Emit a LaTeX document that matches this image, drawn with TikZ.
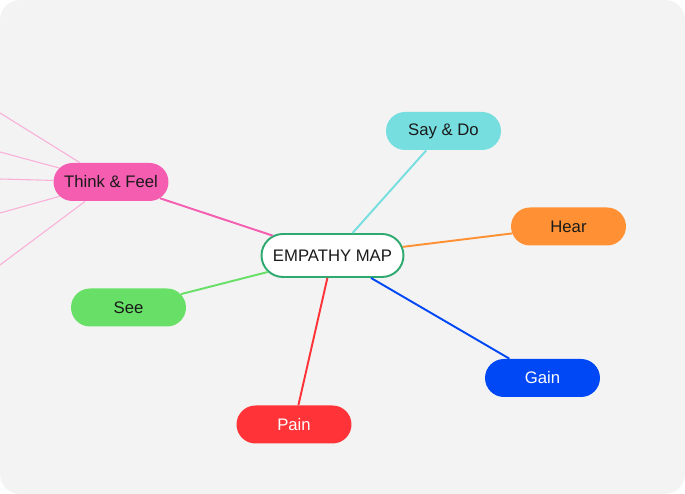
\documentclass[tikz,border=0pt]{standalone}
\usepackage{fontspec}
\setmainfont{Liberation Sans}
\usepackage{xcolor}
\definecolor{mapgray}{RGB}{243,243,243}
\definecolor{maptext}{RGB}{26,26,26}
\definecolor{mapgreen}{RGB}{46,170,112}
\definecolor{mappink}{RGB}{245,93,177}
\definecolor{mapcyan}{RGB}{119,222,224}
\definecolor{maporange}{RGB}{255,144,51}
\definecolor{maplime}{RGB}{104,224,104}
\definecolor{mapblue}{RGB}{0,72,245}
\definecolor{mapred}{RGB}{255,51,56}
\usetikzlibrary{positioning,shapes.misc}

\begin{document}
\begin{tikzpicture}[
  every node/.style={font=\fontsize{9.5}{11}\selectfont,text=maptext},
  pillbox/.style={rounded rectangle,minimum width=2.44cm,minimum height=0.76cm,
                  inner sep=2pt},
  mainlink/.style={line width=1.1pt},
  sublink/.style={line width=0.6pt,draw=mappink!50},
]
  % Canvas
  \fill[white] (0,0) rectangle (13.7,9.88);
  \useasboundingbox (0,0) rectangle (13.7,9.88);
  \fill[mapgray,rounded corners=0.4cm] (0,0) rectangle (13.7,9.88);

  % Centre
  \node[pillbox,fill=white,draw=mapgreen,line width=1.1pt,
        minimum width=2.98cm,minimum height=0.86cm] (empathy) at (6.65,4.77) {EMPATHY MAP};

  % Branches
  \node[pillbox,fill=mappink] (thinkfeel) at (2.22,6.24) {Think \& Feel};
  \node[pillbox,fill=mapcyan] (saydo) at (8.87,7.26) {Say \& Do};
  \node[pillbox,fill=maporange] (hear) at (11.37,5.35) {Hear};
  \node[pillbox,fill=maplime] (see) at (2.57,3.73) {See};
  \node[pillbox,fill=mapblue,text=white] (gain) at (10.85,2.32) {Gain};
  \node[pillbox,fill=mapred,text=white] (pain) at (5.88,1.39) {Pain};

  % Links
  \draw[mainlink,mappink] (empathy) -- (thinkfeel);
  \draw[mainlink,mapcyan] (empathy) -- (saydo);
  \draw[mainlink,maporange] (empathy) -- (hear);
  \draw[mainlink,maplime] (empathy) -- (see);
  \draw[mainlink,mapblue] (empathy) -- (gain);
  \draw[mainlink,mapred] (empathy) -- (pain);

  % Think & Feel leaves (off the canvas)
  \coordinate (leafa) at (0,7.62);
  \coordinate (leafb) at (0,6.84);
  \coordinate (leafc) at (0,6.30);
  \coordinate (leafd) at (0,5.62);
  \coordinate (leafe) at (0,4.58);
  \foreach \leaf in {leafa,leafb,leafc,leafd,leafe}
    \draw[sublink] (thinkfeel) -- (\leaf);
\end{tikzpicture}
\end{document}
